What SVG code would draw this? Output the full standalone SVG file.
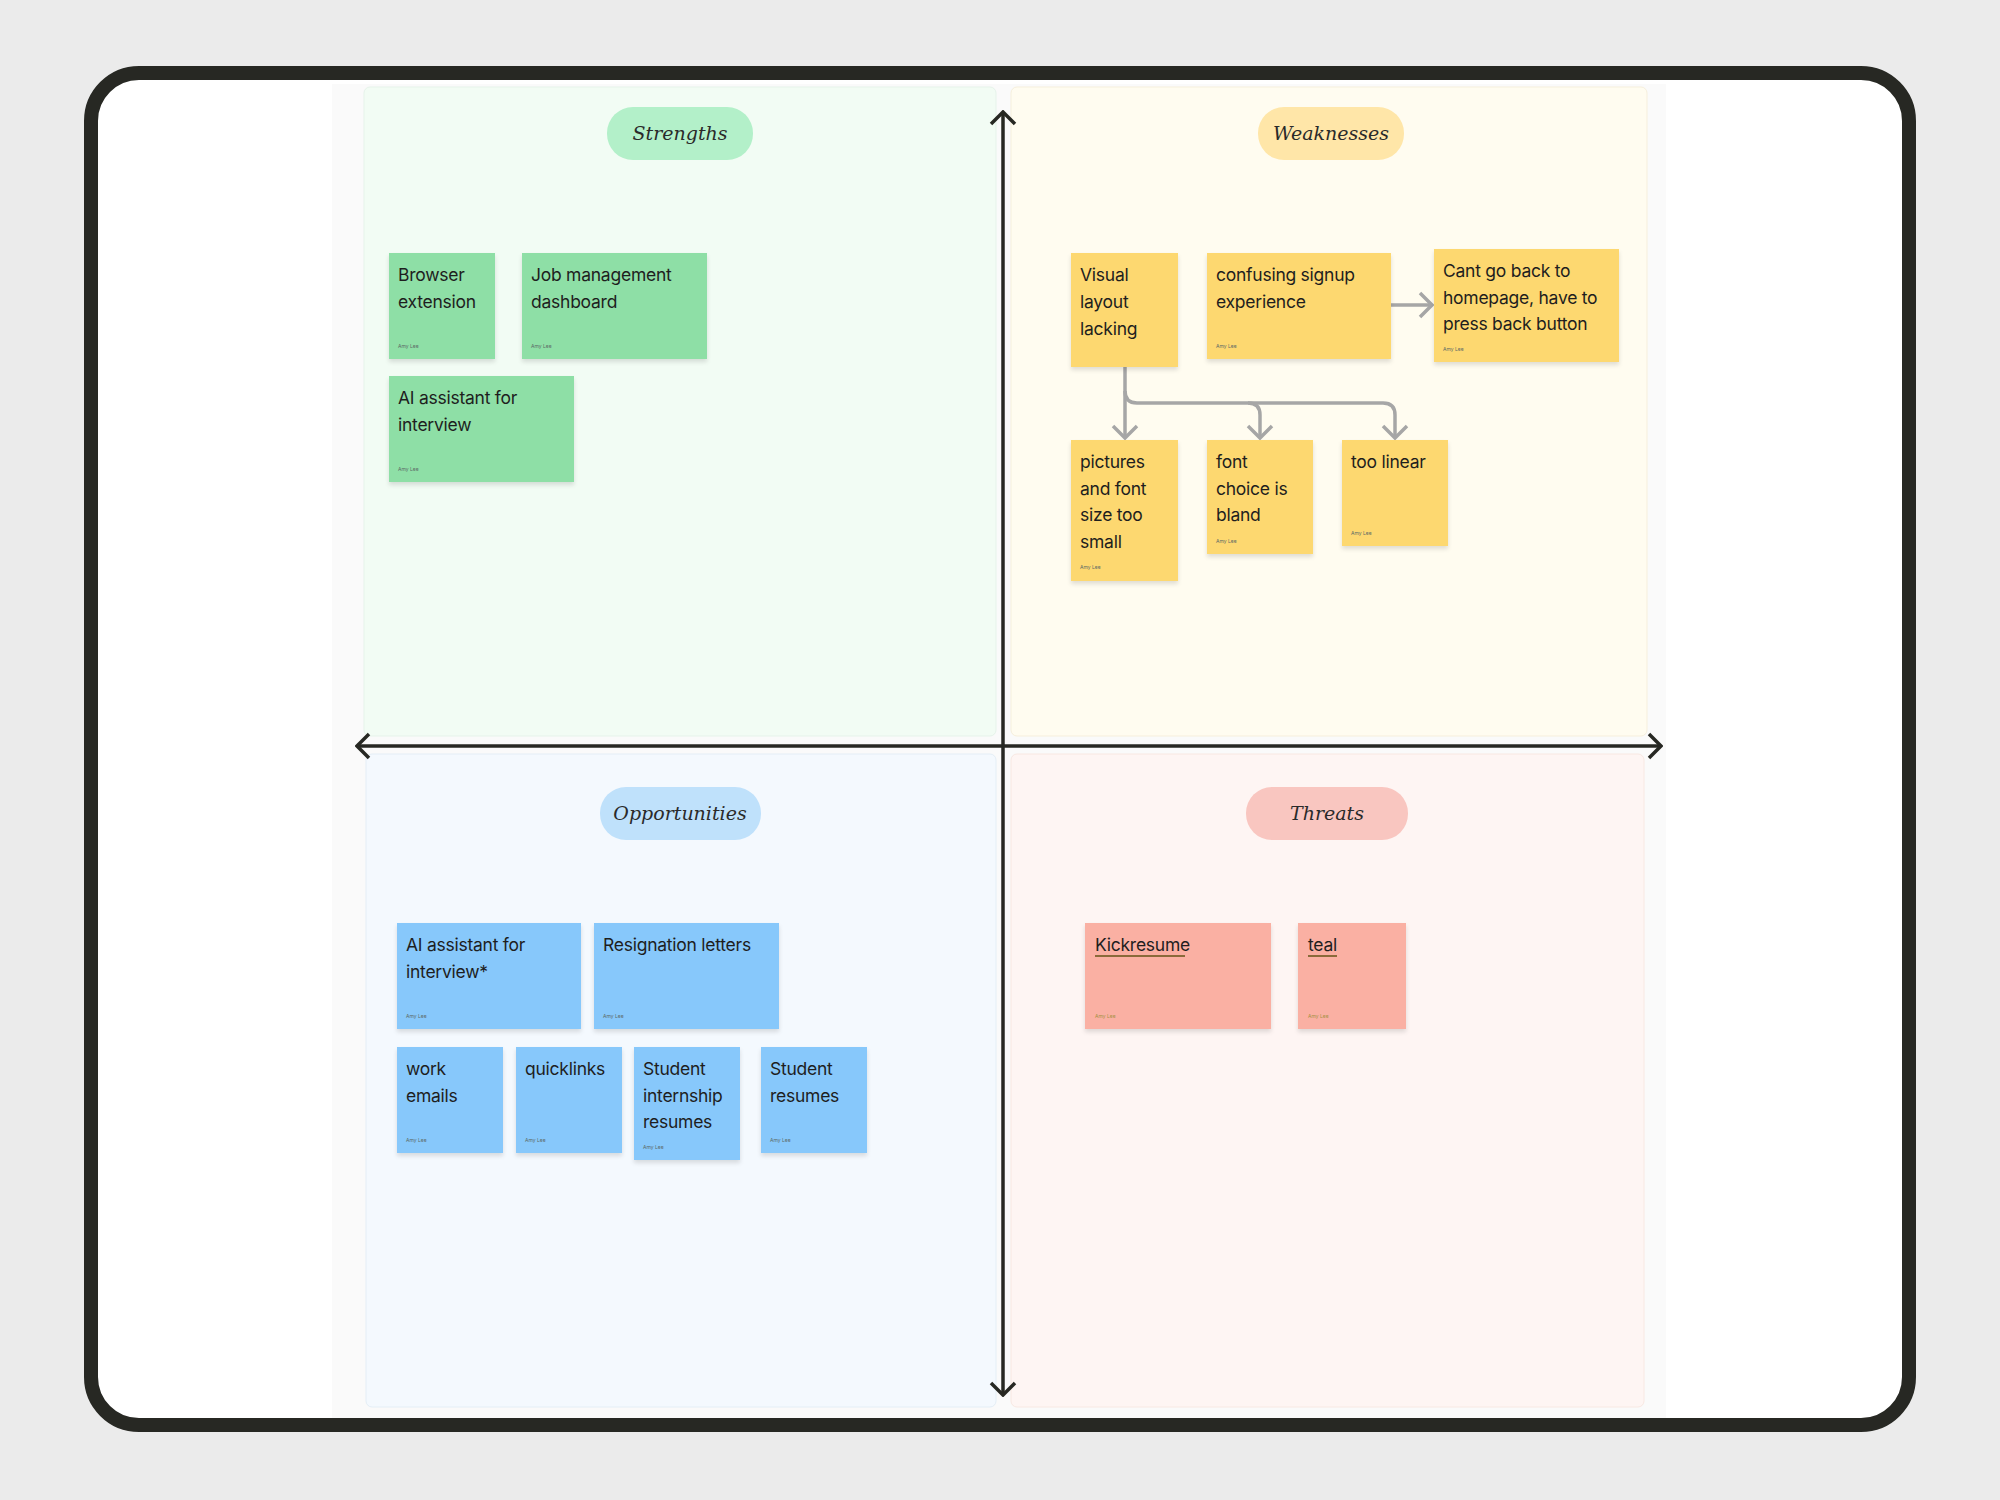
<svg xmlns="http://www.w3.org/2000/svg" width="2000" height="1500" viewBox="0 0 2000 1500">
<defs>
<style>
.note text.t{font-family:Inter,"Noto Sans","Liberation Sans",sans-serif;font-size:17.5px;letter-spacing:-0.25px;fill:#1e1e1e}
.note text.a{font-family:Inter,"Liberation Sans",sans-serif;font-size:5px;fill:#5d6b66}
.g rect{fill:#8edfa6}
.y rect{fill:#fdd870}
.b rect{fill:#87c8fb}
.r rect{fill:#fab0a3}
.r text.a{fill:#a89045}
.note rect{filter:url(#sh)}
.pill text{font-family:"DejaVu Serif","Liberation Serif",serif;font-style:italic;font-size:19px;fill:#2a2a2a;text-anchor:middle}
.axis{stroke:#272823;stroke-width:3.5;fill:none}
.conn{stroke:#a6a6a6;stroke-width:3.5;fill:none}
</style>
<filter id="sh" x="-10%" y="-10%" width="120%" height="130%">
<feDropShadow dx="0" dy="3" stdDeviation="2" flood-color="#000" flood-opacity="0.12"/>
</filter>
<marker id="ax" markerUnits="userSpaceOnUse" viewBox="-14 -14 16 28" markerWidth="16" markerHeight="28" refX="0" refY="0" orient="auto-start-reverse">
<path d="M-12,-12 L0,0 L-12,12" fill="none" stroke="#272823" stroke-width="3.5"/>
</marker>
<marker id="ca" markerUnits="userSpaceOnUse" viewBox="-14 -14 16 28" markerWidth="16" markerHeight="28" refX="0" refY="0" orient="auto">
<path d="M-12,-12 L0,0 L-12,12" fill="none" stroke="#a6a6a6" stroke-width="3.5"/>
</marker>
</defs>
<rect x="0" y="0" width="2000" height="1500" fill="#ebebeb"/>
<rect x="91" y="73" width="1818" height="1352" rx="48" fill="#ffffff" stroke="#272823" stroke-width="14"/>
<rect x="332" y="84" width="1334" height="1334" fill="#fafafa"/>

<g id="quadrants">
<rect id="q-strengths" x="364" y="87" width="632" height="649" rx="6" fill="#f2fcf4" stroke="#e6f3ea" stroke-width="1"/>
<rect id="q-weaknesses" x="1011" y="87" width="636" height="649" rx="6" fill="#fffcf0" stroke="#f6efdc" stroke-width="1"/>
<rect id="q-opportunities" x="366" y="754" width="630" height="653" rx="6" fill="#f4f9fe" stroke="#e4eef6" stroke-width="1"/>
<rect id="q-threats" x="1011" y="754" width="633" height="653" rx="6" fill="#fef5f3" stroke="#f8e8e2" stroke-width="1"/>
</g>

<g id="axes">
<line class="axis" x1="1003" y1="112" x2="1003" y2="1395" marker-start="url(#ax)" marker-end="url(#ax)"/>
<line class="axis" x1="357" y1="746" x2="1661" y2="746" marker-start="url(#ax)" marker-end="url(#ax)"/>
</g>

<g id="pill-strengths" class="pill"><rect x="607" y="107" width="146" height="53" rx="26" fill="#b3f0c9"/><text x="680" y="140">Strengths</text></g>
<g id="pill-weaknesses" class="pill"><rect x="1258" y="107" width="146" height="53" rx="26" fill="#ffe6a8"/><text x="1331" y="140">Weaknesses</text></g>
<g id="pill-opportunities" class="pill"><rect x="600" y="787" width="161" height="53" rx="26" fill="#bfe1fb"/><text x="680" y="820">Opportunities</text></g>
<g id="pill-threats" class="pill"><rect x="1246" y="787" width="162" height="53" rx="26" fill="#f9c6c0"/><text x="1327" y="820">Threats</text></g>

<g id="connectors">
<path class="conn" d="M1391 305 H1432" marker-end="url(#ca)"/>
<path class="conn" d="M1125 367 V438" marker-end="url(#ca)"/>
<path class="conn" d="M1125 391 Q1125 403 1137 403 H1248 Q1260 403 1260 415 V438" marker-end="url(#ca)"/>
<path class="conn" d="M1248 403 H1383 Q1395 403 1395 415 V438" marker-end="url(#ca)"/>
</g>

<g id="n-browser" class="note g"><rect x="389" y="253" width="106" height="106"/><text class="t" x="398" y="281">Browser</text><text class="t" x="398" y="308">extension</text><text class="a" x="398" y="348">Amy Lee</text></g>
<g id="n-job" class="note g"><rect x="522" y="253" width="185" height="106"/><text class="t" x="531" y="281">Job management</text><text class="t" x="531" y="308">dashboard</text><text class="a" x="531" y="348">Amy Lee</text></g>
<g id="n-ai" class="note g"><rect x="389" y="376" width="185" height="106"/><text class="t" x="398" y="404">AI assistant for</text><text class="t" x="398" y="431">interview</text><text class="a" x="398" y="471">Amy Lee</text></g>

<g id="n-visual" class="note y"><rect x="1071" y="253" width="107" height="114"/><text class="t" x="1080" y="281">Visual</text><text class="t" x="1080" y="308">layout</text><text class="t" x="1080" y="335">lacking</text></g>
<g id="n-signup" class="note y"><rect x="1207" y="253" width="184" height="106"/><text class="t" x="1216" y="281">confusing signup</text><text class="t" x="1216" y="308">experience</text><text class="a" x="1216" y="348">Amy Lee</text></g>
<g id="n-cant" class="note y"><rect x="1434" y="249" width="185" height="113"/><text class="t" x="1443" y="277">Cant go back to</text><text class="t" x="1443" y="304">homepage, have to</text><text class="t" x="1443" y="330">press back button</text><text class="a" x="1443" y="351">Amy Lee</text></g>
<g id="n-pictures" class="note y"><rect x="1071" y="440" width="107" height="141"/><text class="t" x="1080" y="468">pictures</text><text class="t" x="1080" y="495">and font</text><text class="t" x="1080" y="521">size too</text><text class="t" x="1080" y="548">small</text><text class="a" x="1080" y="569">Amy Lee</text></g>
<g id="n-font" class="note y"><rect x="1207" y="440" width="106" height="114"/><text class="t" x="1216" y="468">font</text><text class="t" x="1216" y="495">choice is</text><text class="t" x="1216" y="521">bland</text><text class="a" x="1216" y="543">Amy Lee</text></g>
<g id="n-linear" class="note y"><rect x="1342" y="440" width="106" height="106"/><text class="t" x="1351" y="468">too linear</text><text class="a" x="1351" y="535">Amy Lee</text></g>

<g id="n-ai2" class="note b"><rect x="397" y="923" width="184" height="106"/><text class="t" x="406" y="951">AI assistant for</text><text class="t" x="406" y="978">interview*</text><text class="a" x="406" y="1018">Amy Lee</text></g>
<g id="n-resign" class="note b"><rect x="594" y="923" width="185" height="106"/><text class="t" x="603" y="951">Resignation letters</text><text class="a" x="603" y="1018">Amy Lee</text></g>
<g id="n-work" class="note b"><rect x="397" y="1047" width="106" height="106"/><text class="t" x="406" y="1075">work</text><text class="t" x="406" y="1102">emails</text><text class="a" x="406" y="1142">Amy Lee</text></g>
<g id="n-quick" class="note b"><rect x="516" y="1047" width="106" height="106"/><text class="t" x="525" y="1075">quicklinks</text><text class="a" x="525" y="1142">Amy Lee</text></g>
<g id="n-intern" class="note b"><rect x="634" y="1047" width="106" height="113"/><text class="t" x="643" y="1075">Student</text><text class="t" x="643" y="1102">internship</text><text class="t" x="643" y="1128">resumes</text><text class="a" x="643" y="1149">Amy Lee</text></g>
<g id="n-resumes" class="note b"><rect x="761" y="1047" width="106" height="106"/><text class="t" x="770" y="1075">Student</text><text class="t" x="770" y="1102">resumes</text><text class="a" x="770" y="1142">Amy Lee</text></g>

<g id="n-kick" class="note r"><rect x="1085" y="923" width="186" height="106"/><text class="t" x="1095" y="951">Kickresume</text><line x1="1095" y1="956" x2="1185" y2="956" stroke="#8a6a3a" stroke-width="2"/><text class="a" x="1095" y="1018">Amy Lee</text></g>
<g id="n-teal" class="note r"><rect x="1298" y="923" width="108" height="106"/><text class="t" x="1308" y="951">teal</text><line x1="1308" y1="956" x2="1337" y2="956" stroke="#8a6a3a" stroke-width="2"/><text class="a" x="1308" y="1018">Amy Lee</text></g>
</svg>
